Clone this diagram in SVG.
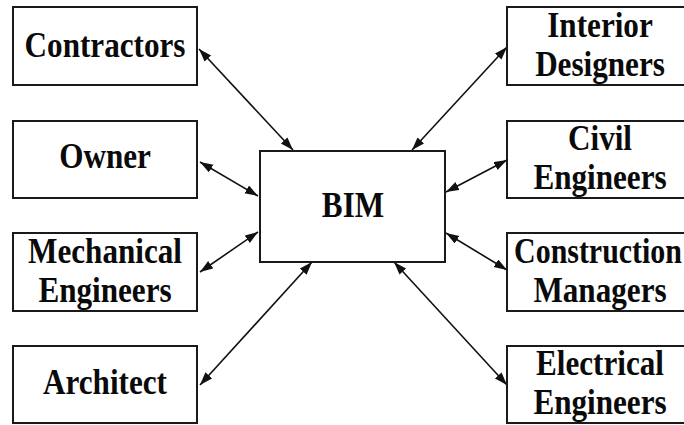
<svg xmlns="http://www.w3.org/2000/svg" width="684" height="425" viewBox="0 0 684 425">
  <style>
    .box { fill: #ffffff; stroke: #1a1a1a; stroke-width: 2; }
    .lbl { font-family: "Liberation Serif", "Times New Roman", serif; font-weight: bold; font-size: 35px; fill: #0a0a0a; text-anchor: middle; }
    .link { stroke: #111111; stroke-width: 1.6; fill: none; marker-start: url(#head); marker-end: url(#head); }
  </style>
  <defs>
    <marker id="head" markerUnits="userSpaceOnUse" markerWidth="14" markerHeight="10" refX="13" refY="4.5" orient="auto-start-reverse">
      <path d="M0,0 L13,4.5 L0,9 Z" fill="#111111"/>
    </marker>
  </defs>
  <rect width="684" height="425" fill="#ffffff"/>

  <g id="connectors">
    <line class="link" x1="199" y1="49" x2="293" y2="150"/>
    <line class="link" x1="200" y1="162" x2="258" y2="196"/>
    <line class="link" x1="200" y1="272" x2="258" y2="232"/>
    <line class="link" x1="200" y1="385" x2="312" y2="262"/>
    <line class="link" x1="507" y1="47" x2="412" y2="150"/>
    <line class="link" x1="507" y1="160" x2="446" y2="192"/>
    <line class="link" x1="446" y1="233" x2="507" y2="270"/>
    <line class="link" x1="394" y1="262" x2="507" y2="385"/>
  </g>

  <!-- labels are set in a narrowed bold serif: scale(0.89,1) about each anchor -->
  <g id="bim">
    <rect class="box" x="260" y="151" width="185" height="111"/>
    <text class="lbl" transform="translate(353 217) scale(0.89 1)">BIM</text>
  </g>

  <g id="contractors">
    <rect class="box" x="13" y="7" width="184" height="78"/>
    <text class="lbl" transform="translate(105 57) scale(0.89 1)">Contractors</text>
  </g>
  <g id="owner">
    <rect class="box" x="13" y="121" width="184" height="77"/>
    <text class="lbl" transform="translate(105 168) scale(0.89 1)">Owner</text>
  </g>
  <g id="mechanical-engineers">
    <rect class="box" x="13" y="233" width="184" height="78"/>
    <text class="lbl" transform="translate(105 263) scale(0.89 1)">Mechanical</text>
    <text class="lbl" transform="translate(105 302) scale(0.89 1)">Engineers</text>
  </g>
  <g id="architect">
    <rect class="box" x="13" y="346" width="184" height="77"/>
    <text class="lbl" transform="translate(105 394) scale(0.89 1)">Architect</text>
  </g>

  <g id="interior-designers">
    <rect class="box" x="507" y="7" width="184" height="78"/>
    <text class="lbl" transform="translate(600 37) scale(0.89 1)">Interior</text>
    <text class="lbl" transform="translate(600 76) scale(0.89 1)">Designers</text>
  </g>
  <g id="civil-engineers">
    <rect class="box" x="507" y="121" width="184" height="77"/>
    <text class="lbl" transform="translate(600 150) scale(0.89 1)">Civil</text>
    <text class="lbl" transform="translate(600 189) scale(0.89 1)">Engineers</text>
  </g>
  <g id="construction-managers">
    <rect class="box" x="507" y="233" width="184" height="78"/>
    <text class="lbl" transform="translate(598 263) scale(0.855 1)">Construction</text>
    <text class="lbl" transform="translate(600 302) scale(0.89 1)">Managers</text>
  </g>
  <g id="electrical-engineers">
    <rect class="box" x="507" y="346" width="184" height="77"/>
    <text class="lbl" transform="translate(600 375) scale(0.89 1)">Electrical</text>
    <text class="lbl" transform="translate(600 414) scale(0.89 1)">Engineers</text>
  </g>
</svg>
